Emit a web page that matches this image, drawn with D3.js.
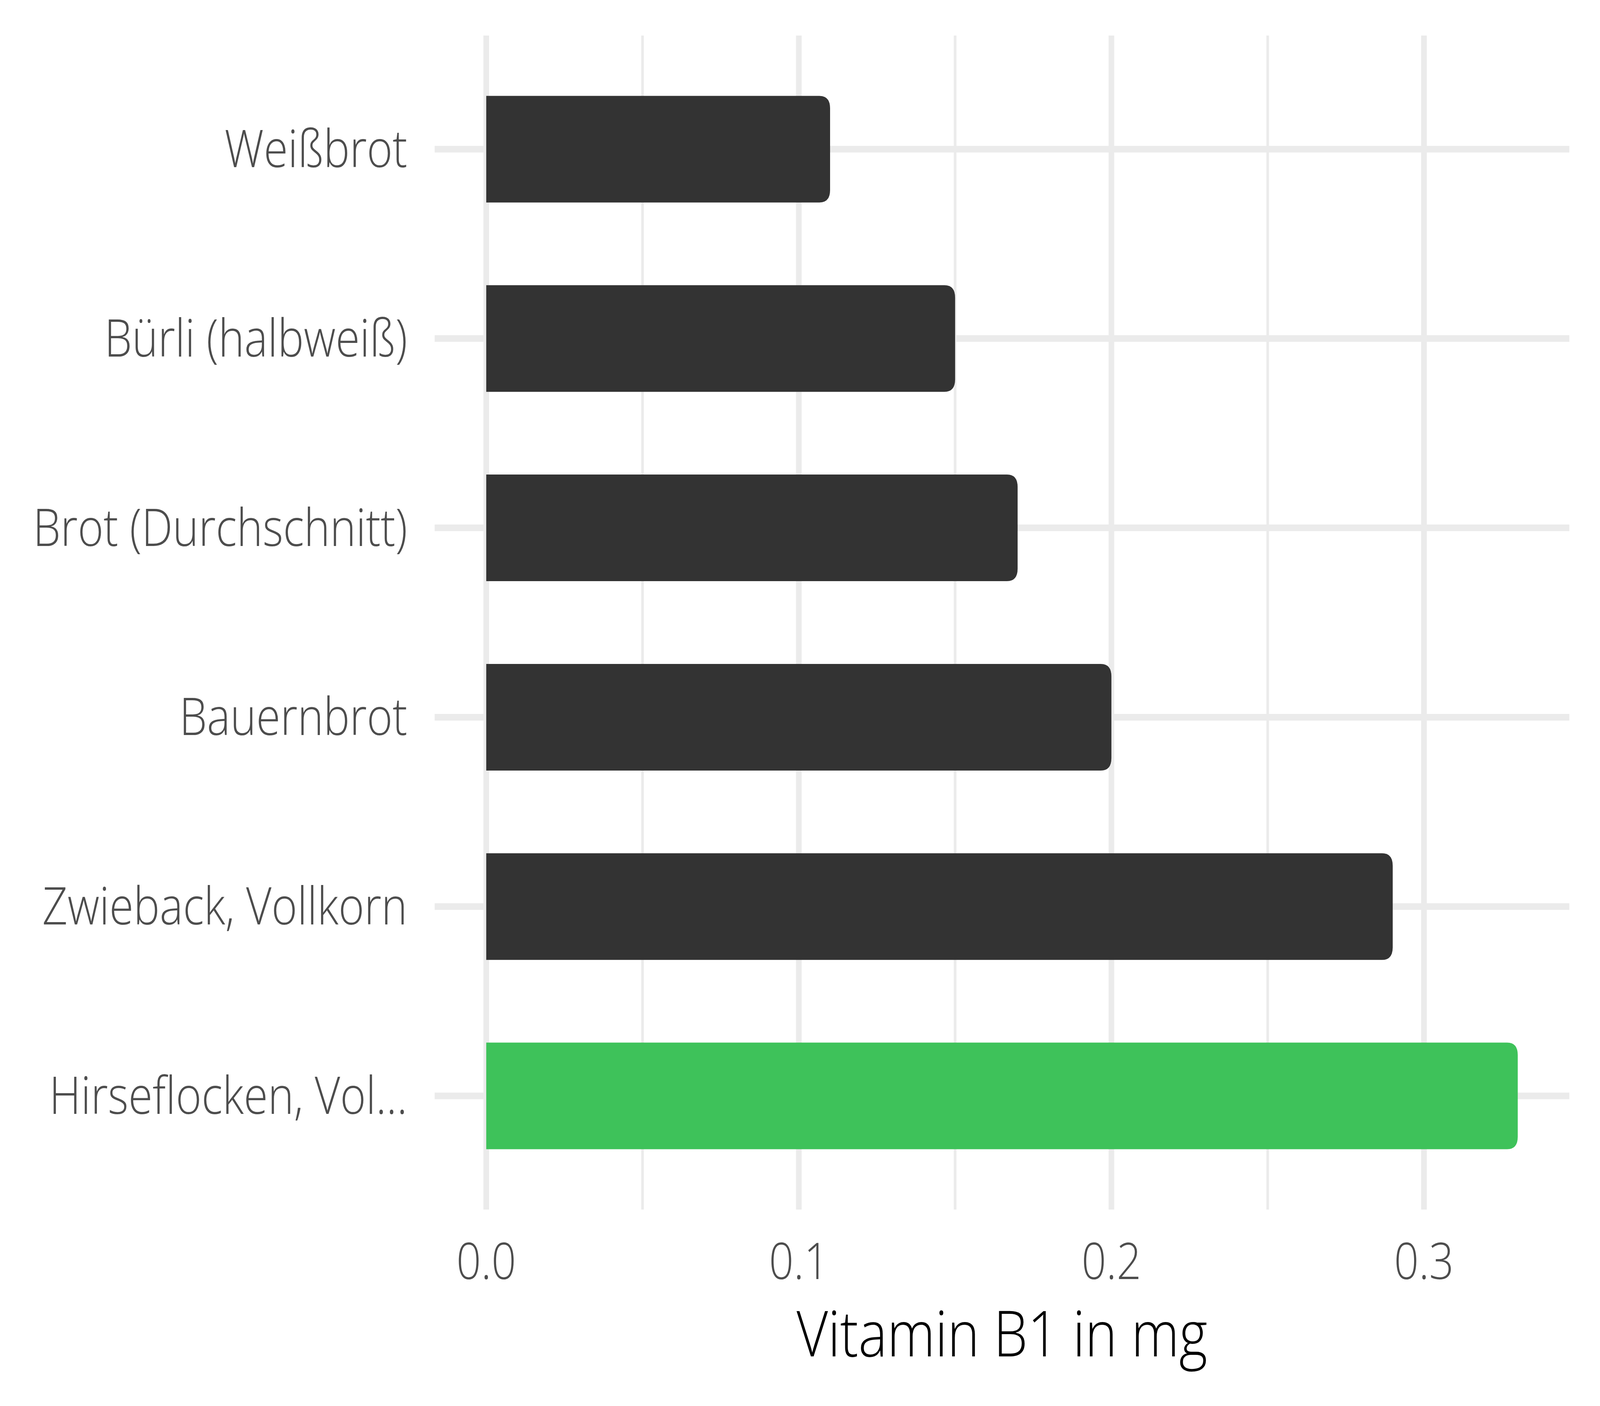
<!DOCTYPE html>
<html>
<head>
<meta charset="utf-8">
<script src="https://cdn.jsdelivr.net/npm/d3@7"></script>
<style>
  html, body { margin: 0; padding: 0; background: #ffffff; width: 100%; height: 100%; overflow: hidden; }
  svg { display: block; width: 100vw; height: 100vh; }
</style>
</head>
<body>
<script>
// ---- data ----
const categories = ["Weißbrot", "Bürli (halbweiß)", "Brot (Durchschnitt)", "Bauernbrot", "Zwieback, Vollkorn", "Hirseflocken, Vol..."];
const values = [0.11, 0.15, 0.17, 0.2, 0.29, 0.33];
const highlight = [false, false, false, false, false, true];
const majorTicks = [0, 0.1, 0.2, 0.3];
const minorTicks = [0.05, 0.15, 0.25];
const tickLabels = ["0.0", "0.1", "0.2", "0.3"];
const xTitle = "Vitamin B1 in mg";

// ---- layout ----
const W = 4800, H = 3600;
const panel = { left: 1304, right: 4708, top: 91, bottom: 3097 };
const font = "'Open Sans', 'Noto Sans', sans-serif";

const svg = d3.select("body").append("svg")
  .attr("viewBox", `0 0 ${W} ${H}`)
  .attr("preserveAspectRatio", "none");

const maxV = d3.max(values);
const pad = maxV * 0.05;
const x = d3.scaleLinear().domain([0 - pad, maxV + pad]).range([panel.left, panel.right]);
const y = d3.scalePoint().domain(categories).range([panel.top, panel.bottom]).padding(0.6);

const grid = svg.append("g");
grid.selectAll(".minor").data(minorTicks).join("line")
  .attr("x1", d => x(d)).attr("x2", d => x(d))
  .attr("y1", panel.top).attr("y2", panel.bottom)
  .attr("stroke", "#EBEBEB").attr("stroke-width", 8);
grid.selectAll(".major").data(majorTicks).join("line")
  .attr("x1", d => x(d)).attr("x2", d => x(d))
  .attr("y1", panel.top).attr("y2", panel.bottom)
  .attr("stroke", "#EBEBEB").attr("stroke-width", 17);
grid.selectAll(".hmajor").data(categories).join("line")
  .attr("x1", panel.left).attr("x2", panel.right)
  .attr("y1", d => y(d)).attr("y2", d => y(d))
  .attr("stroke", "#EBEBEB").attr("stroke-width", 17);

// bars: square left, rounded right
const barH = 273, r = 32;
function barPath(x0, x1, yc) {
  const t = yc - barH / 2, b = yc + barH / 2;
  const rr = Math.min(r, (x1 - x0));
  return `M${x0},${t} H${x1 - rr} Q${x1},${t} ${x1},${t + rr} V${b - rr} Q${x1},${b} ${x1 - rr},${b} H${x0} Z`;
}
const data = categories.map((c, i) => ({ c, v: values[i], h: highlight[i] }));
svg.append("g").selectAll("path").data(data).join("path")
  .attr("d", d => barPath(x(0), x(d.v), y(d.c)))
  .attr("fill", d => d.h ? "#3EC25A" : "#333333");

// y labels
svg.append("g").selectAll("text").data(categories).join("text")
  .attr("x", 1222).attr("y", d => y(d) + 46)
  .attr("text-anchor", "end")
  .attr("font-family", font).attr("font-weight", 300)
  .attr("font-size", 132).attr("fill", "#4D4D4D")
  .text(d => d);

// x tick labels
svg.append("g").selectAll("text").data(majorTicks).join("text")
  .attr("x", d => x(d)).attr("y", 3275)
  .attr("text-anchor", "middle")
  .attr("font-family", font).attr("font-weight", 300)
  .attr("font-size", 130).attr("fill", "#4D4D4D")
  .text((d, i) => tickLabels[i]);

// x title
svg.append("text")
  .attr("x", (panel.left + panel.right) / 2).attr("y", 3473)
  .attr("text-anchor", "middle")
  .attr("font-family", font).attr("font-weight", 300)
  .attr("font-size", 163).attr("fill", "#000000")
  .text(xTitle);
</script>
</body>
</html>
